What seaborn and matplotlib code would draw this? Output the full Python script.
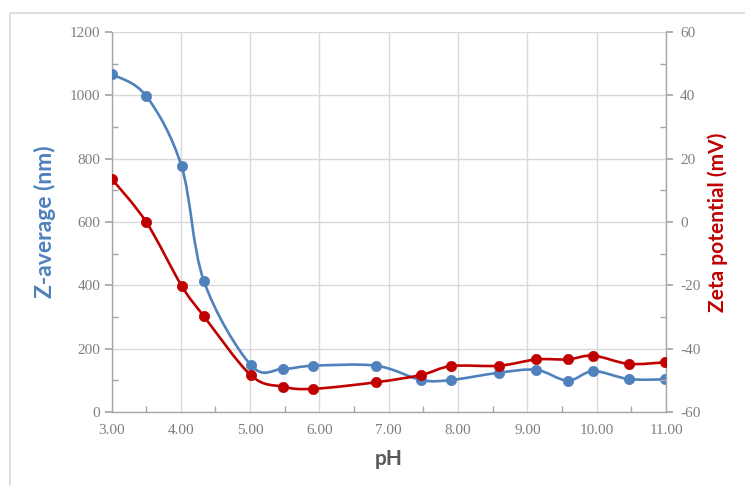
import numpy as np
import pandas as pd
import matplotlib
matplotlib.use("Agg")
import matplotlib.pyplot as plt
from matplotlib.path import Path
from matplotlib.patches import PathPatch, Rectangle
from matplotlib.ticker import MultipleLocator, FormatStrFormatter
import seaborn as sns

# --- Data ---
ph = [3.00, 3.50, 4.01, 4.33, 5.01, 5.47, 5.91, 6.82,
      7.47, 7.90, 8.59, 9.13, 9.58, 9.95, 10.46, 10.99]
z_average = [1067, 998, 776, 415, 148, 136, 146, 146,
             101, 101, 124, 133, 99, 129, 104, 103]
zeta = [13.7, 0.0, -20.1, -29.7, -48.4, -52.0, -52.7, -50.6,
        -48.3, -45.5, -45.4, -43.4, -43.4, -42.2, -44.8, -44.3]

BLUE = "#4F81BD"
RED = "#C00000"
GRID = "#D9D9D9"
AXIS = "#A6A6A6"
TICK_TXT = "#7F7F7F"
LABEL_TXT = "#595959"


def smooth_path(xs, ys):
    """Excel-style smoothed line: cubic Bezier segments, Catmull-Rom control points."""
    pts = np.column_stack([xs, ys]).astype(float)
    ext = np.vstack([pts[0], pts, pts[-1]])
    verts = [pts[0]]
    codes = [Path.MOVETO]
    for i in range(1, len(ext) - 2):
        p0, p1, p2, p3 = ext[i - 1], ext[i], ext[i + 1], ext[i + 2]
        verts += [p1 + (p2 - p0) / 6, p2 - (p3 - p1) / 6, p2]
        codes += [Path.CURVE4] * 3
    return Path(verts, codes)


df = pd.DataFrame({"pH": ph, "z": z_average, "zeta": zeta})

sns.set_theme(style="white")
plt.rcParams["font.family"] = ["Lato", "DejaVu Sans"]
plt.rcParams["axes.unicode_minus"] = False

fig = plt.figure(figsize=(7.45, 4.86), dpi=100)
ax = fig.add_axes([0.1497, 0.1523, 0.7443, 0.7819])
ax2 = ax.twinx()

# chart frame (partly cropped in the reference)
fig.patches.append(Rectangle((10 / 745, -0.05), 1.0, 1.05 - 13 / 486,
                             transform=fig.transFigure, fill=False,
                             edgecolor="#D9D9D9", linewidth=1.2))

# --- Z-average (left axis) ---
ax.add_patch(PathPatch(smooth_path(df["pH"], df["z"]), fill=False,
                       edgecolor=BLUE, linewidth=1.9, zorder=3))
sns.scatterplot(data=df, x="pH", y="z", ax=ax, color=BLUE, s=55,
                edgecolor=BLUE, linewidth=0.5, zorder=4)

# --- Zeta potential (right axis) ---
ax2.add_patch(PathPatch(smooth_path(df["pH"], df["zeta"]), fill=False,
                        edgecolor=RED, linewidth=1.9, zorder=3))
sns.scatterplot(data=df, x="pH", y="zeta", ax=ax2, color=RED, s=55,
                edgecolor=RED, linewidth=0.5, zorder=4)

ax.set_xlim(3, 11)
ax.set_ylim(0, 1200)
ax2.set_ylim(-60, 60)

ax.xaxis.set_major_locator(MultipleLocator(1))
ax.xaxis.set_minor_locator(MultipleLocator(0.5))
ax.xaxis.set_major_formatter(FormatStrFormatter("%.2f"))
ax.yaxis.set_major_locator(MultipleLocator(200))
ax.yaxis.set_minor_locator(MultipleLocator(100))
ax2.yaxis.set_major_locator(MultipleLocator(20))
ax2.yaxis.set_minor_locator(MultipleLocator(10))

ax.grid(True, which="major", color=GRID, linewidth=1.0)
ax.set_axisbelow(True)

for a in (ax, ax2):
    a.spines["top"].set_visible(False)
    for side in ("left", "right", "bottom"):
        a.spines[side].set_color(AXIS)
        a.spines[side].set_linewidth(1.0)
ax.spines["right"].set_visible(False)
ax2.spines["left"].set_visible(False)
ax2.spines["bottom"].set_visible(False)

tick_font = {"family": "Liberation Serif", "size": 11}
ax.tick_params(axis="both", which="major", direction="out", length=5,
               color=AXIS, labelcolor=TICK_TXT, pad=3)
ax.tick_params(axis="x", which="major", pad=4)
ax.tick_params(axis="both", which="minor", direction="in", length=4,
               color=AXIS)
ax.tick_params(axis="x", which="minor", bottom=True)
ax.tick_params(axis="y", which="minor", left=True)
ax2.tick_params(axis="y", which="major", direction="out", length=5,
                color=AXIS, labelcolor=TICK_TXT, pad=5)
ax2.tick_params(axis="y", which="minor", direction="in", length=4,
                color=AXIS, right=True)
for lab in ax.get_xticklabels() + ax.get_yticklabels() + ax2.get_yticklabels():
    lab.set_fontfamily(tick_font["family"])
    lab.set_fontsize(tick_font["size"])

ax.set_xlabel("pH", fontsize=15, fontweight="bold", color=LABEL_TXT, labelpad=8)
ax.set_ylabel("Z-average (nm)", fontsize=16.5, fontweight="bold", color=BLUE, labelpad=10)
ax2.set_ylabel("Zeta potential (mV)", fontsize=15, fontweight="bold", color=RED, labelpad=5)

fig.savefig("out.png", dpi=100)
